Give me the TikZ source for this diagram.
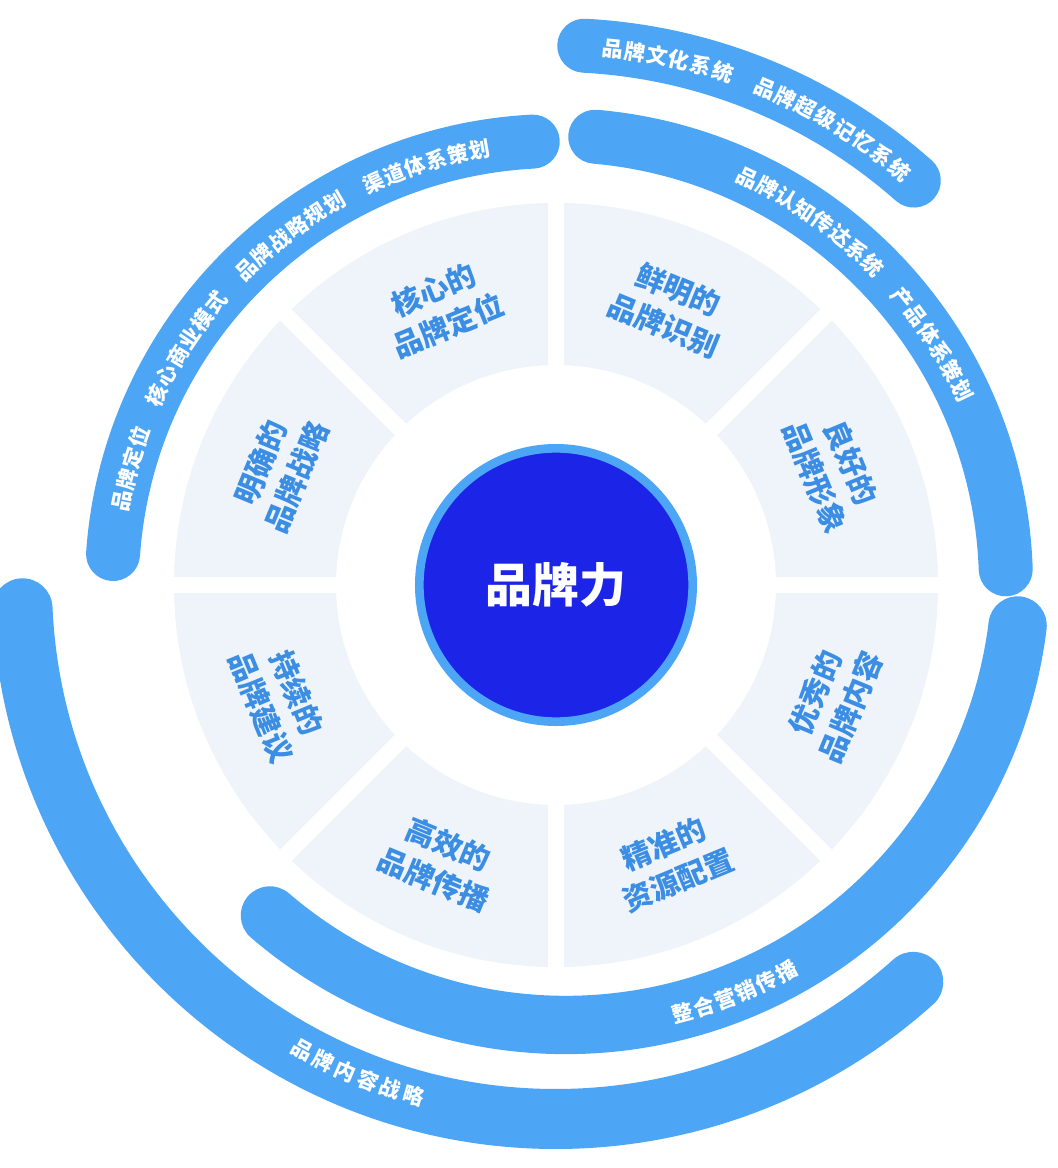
\documentclass[tikz,border=0pt]{standalone}
\usepackage{fontspec}
\setmainfont{Noto Sans CJK SC}
\definecolor{band}{RGB}{77,166,245}
\definecolor{sect}{RGB}{238,244,249}
\definecolor{stxt}{RGB}{60,142,228}
\definecolor{core}{RGB}{28,36,232}
\begin{document}
\begin{tikzpicture}[x=0.03cm,y=0.03cm,
  bandline/.style={draw=band,line width=1.62cm,line cap=round},
  bandtxt/.style={text=white,font=\fontsize{18}{18}\selectfont\bfseries,inner sep=0pt},
  sectxt/.style={text=stxt,font=\fontsize{25}{33}\selectfont\bfseries,align=center,inner sep=0pt}]
\useasboundingbox (-556,-583) rectangle (502,585);
\fill[white] (-556,-583) rectangle (502,585);
% bands
\draw[bandline] (93:444) arc[start angle=93,end angle=176,radius=444];
\draw[bandline] (87:540) arc[start angle=87,end angle=48.5,radius=540];
\draw[bandline] (85:450) arc[start angle=85,end angle=2,radius=450];
\draw[bandline,line width=1.8cm] (182.5:534) arc[start angle=182.5,end angle=312,radius=534];
\draw[bandline,line width=1.75cm] ([shift={(10,15)}]229.4:455) arc[start angle=229.4,end angle=353,radius=455];
% band texts
\foreach \ch [count=\i from 0] in {品,牌,定,位,{},核,心,商,业,模,式,{},品,牌,战,略,规,划,{},渠,道,体,系,策,划}{
  \pgfmathsetmacro\ang{169-\i*2.875}
  \node[bandtxt,rotate=\ang-90] (ta\i) at (\ang:442) {\ch};}
\foreach \ch [count=\i from 0] in {品,牌,文,化,系,统,{},品,牌,超,级,记,忆,系,统}{
  \pgfmathsetmacro\ang{84-\i*2.4}
  \node[bandtxt,rotate=\ang-90] (tb\i) at (\ang:539) {\ch};}
\foreach \ch [count=\i from 0] in {品,牌,认,知,传,达,系,统,{},产,品,体,系,策,划}{
  \pgfmathsetmacro\ang{64.8-\i*2.8}
  \node[bandtxt,rotate=\ang-90] (tc\i) at (\ang:450) {\ch};}
\foreach \ch [count=\i from 0] in {品,牌,内,容,战,略}{
  \pgfmathsetmacro\ang{241.4+\i*2.6}
  \node[bandtxt,rotate=\ang+90] (td\i) at (\ang:530) {\ch};}
\foreach \ch [count=\i from 0] in {整,合,营,销,传,播}{
  \pgfmathsetmacro\ang{284.8+\i*2.8}
  \node[bandtxt,rotate=\ang+90] (te\i) at ([shift={(10,15)}]\ang:458) {\ch};}
% sector ring
\fill[sect,even odd rule] (0,0) circle[radius=382] (0,0) circle[radius=220];
\foreach \a in {0,45,...,315}{\draw[white,line width=0.48cm] (0,0) -- (\a:400);}
% centre
\fill[white] (0,0) circle[radius=190];
\node[circle,fill=core,draw=band,line width=0.26cm,minimum size=8.2cm,text=white,font=\fontsize{40}{40}\selectfont\bfseries] (core) at (0,0) {品牌力};
% sector labels
\node[sectxt,rotate=-22.5] (s1) at (67.5:300) {鲜明的\\品牌识别};
\node[sectxt,rotate=22.5] (s2) at (112.5:300) {核心的\\品牌定位};
\node[sectxt,rotate=67.5] (s3) at (157.5:300) {明确的\\品牌战略};
\node[sectxt,rotate=-67.5] (s4) at (22.5:300) {良好的\\品牌形象};
\node[sectxt,rotate=67.5] (s5) at (-22.5:300) {优秀的\\品牌内容};
\node[sectxt,rotate=22.5] (s6) at (-67.5:300) {精准的\\资源配置};
\node[sectxt,rotate=-22.5] (s7) at (-112.5:300) {高效的\\品牌传播};
\node[sectxt,rotate=-67.5] (s8) at (-157.5:300) {持续的\\品牌建议};
\end{tikzpicture}
\end{document}
